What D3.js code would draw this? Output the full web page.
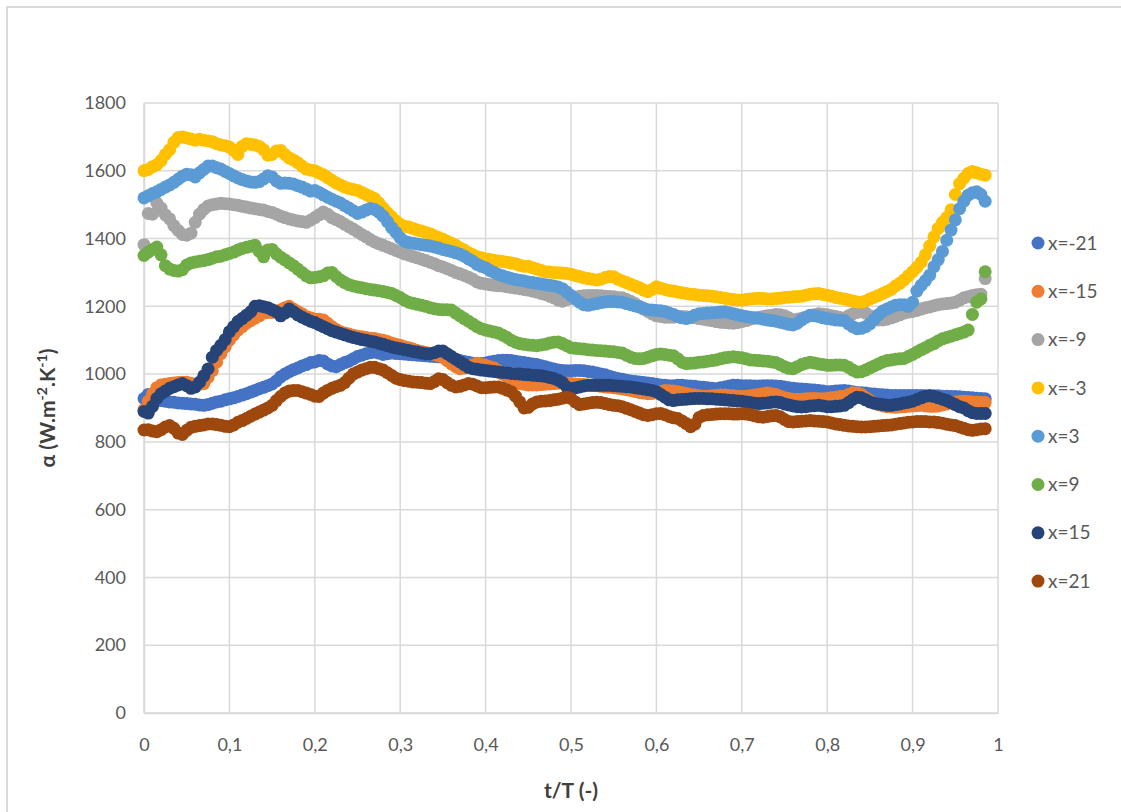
<!DOCTYPE html>
<html>
<head>
<meta charset="utf-8">
<script src="https://cdn.jsdelivr.net/npm/d3@7"></script>
<style>
  html, body { margin: 0; padding: 0; background: #ffffff; }
  svg { display: block; }
</style>
</head>
<body>
<svg id="chart" width="1121" height="812"></svg>
<script>
// Heat transfer coefficient over one period, at eight axial positions.
const seriesNames = ["x=-21", "x=-15", "x=-9", "x=-3", "x=3", "x=9", "x=15", "x=21"];
const seriesColors = ["#4472C4", "#ED7D31", "#A5A5A5", "#FFC000", "#5B9BD5", "#70AD47", "#264478", "#9E480E"];

const xTicks = [0, 0.1, 0.2, 0.3, 0.4, 0.5, 0.6, 0.7, 0.8, 0.9, 1];
const xTickLabels = ["0", "0,1", "0,2", "0,3", "0,4", "0,5", "0,6", "0,7", "0,8", "0,9", "1"];
const yTicks = [0, 200, 400, 600, 800, 1000, 1200, 1400, 1600, 1800];

// Samples are taken every 0.005 t/T, starting at t/T = 0
const sampleStep = 0.005;

const alphaXm21 = [
  928,940,936,926,922,920,918,917,915,914,913,912,911,909,908,910,914,918,920,924,
  927,930,934,938,942,947,952,957,961,966,971,980,992,1000,1007,1013,1018,1024,1028,1034,
  1036,1040,1039,1030,1024,1022,1028,1034,1038,1045,1052,1056,1060,1063,1065,1062,1058,1060,1062,1061,
  1060,1059,1058,1057,1056,1055,1054,1053,1052,1051,1050,1048,1046,1043,1040,1037,1035,1032,1030,1031,
  1033,1036,1038,1040,1041,1041,1040,1038,1036,1034,1032,1030,1028,1025,1022,1018,1015,1012,1011,1010,
  1010,1011,1011,1010,1008,1006,1003,1000,998,994,990,987,985,982,980,978,977,975,974,972,
  970,968,967,966,966,967,967,966,965,964,962,961,960,958,957,960,962,965,967,967,
  966,966,966,965,965,966,966,966,965,964,962,960,958,957,956,955,954,953,952,950,
  948,949,950,951,952,950,948,946,945,944,942,941,940,939,938,937,937,937,937,937,
  937,937,937,936,936,936,936,935,935,934,934,933,932,931,930,929,928,927];

const alphaXm15 = [
  895,920,942,960,968,970,972,974,975,976,976,973,970,970,972,990,1010,1035,1060,1080,
  1100,1116,1130,1140,1150,1158,1165,1172,1180,1182,1182,1186,1190,1196,1200,1192,1185,1178,1170,1166,
  1162,1162,1160,1150,1140,1132,1125,1121,1118,1115,1112,1110,1108,1106,1105,1102,1100,1096,1092,1088,
  1085,1081,1078,1074,1070,1067,1064,1061,1058,1054,1050,1040,1030,1022,1016,1018,1022,1027,1032,1029,
  1026,1022,1018,1010,1000,992,985,978,972,970,968,968,968,969,970,971,972,973,974,973,
  972,971,970,969,968,967,966,964,962,961,960,958,956,954,952,949,946,944,942,943,
  945,949,952,951,950,948,946,943,940,938,936,935,935,936,937,938,938,937,936,935,
  934,935,936,938,940,942,944,942,940,935,930,928,926,926,926,927,928,928,927,927,
  928,930,932,934,935,940,945,944,940,930,922,915,910,906,904,903,902,903,904,905,
  906,907,908,906,905,905,906,909,912,915,918,919,920,919,918,917,916,916];

const alphaXm9 = [
  1382,1474,1472,1505,1490,1470,1458,1438,1424,1412,1410,1416,1448,1472,1486,1496,1500,1502,1504,1503,
  1502,1500,1498,1495,1493,1490,1488,1486,1484,1480,1477,1472,1466,1462,1458,1455,1452,1450,1448,1454,
  1462,1470,1478,1472,1462,1456,1450,1442,1435,1428,1420,1412,1405,1397,1390,1385,1380,1375,1370,1365,
  1360,1355,1351,1347,1343,1339,1335,1330,1326,1320,1316,1311,1306,1300,1296,1291,1286,1280,1272,1268,
  1266,1264,1262,1261,1260,1258,1256,1254,1252,1250,1248,1245,1242,1238,1235,1230,1225,1218,1215,1220,
  1224,1227,1230,1231,1232,1232,1232,1231,1230,1229,1228,1226,1225,1220,1215,1208,1200,1192,1185,1178,
  1172,1170,1168,1168,1168,1169,1170,1169,1168,1166,1164,1162,1160,1158,1155,1153,1152,1151,1150,1152,
  1155,1158,1162,1165,1168,1170,1172,1174,1176,1175,1172,1166,1160,1162,1165,1168,1172,1175,1178,1177,
  1175,1172,1170,1167,1165,1172,1178,1182,1185,1180,1172,1165,1160,1160,1162,1166,1170,1175,1180,1183,
  1185,1188,1192,1196,1198,1202,1205,1207,1208,1210,1212,1218,1225,1228,1232,1234,1236,1282];

const alphaXm3 = [
  1600,1604,1612,1618,1630,1648,1662,1684,1698,1700,1697,1694,1690,1693,1690,1688,1686,1680,1676,1674,
  1670,1660,1648,1672,1680,1678,1676,1672,1662,1646,1648,1658,1660,1648,1638,1632,1624,1614,1605,1602,
  1600,1594,1588,1580,1572,1564,1558,1552,1548,1545,1542,1536,1530,1524,1518,1505,1490,1476,1464,1452,
  1442,1436,1434,1430,1425,1422,1418,1414,1408,1403,1398,1392,1386,1380,1372,1366,1358,1352,1346,1343,
  1340,1338,1336,1334,1332,1330,1328,1326,1321,1318,1318,1314,1310,1306,1302,1301,1300,1299,1298,1297,
  1295,1291,1288,1284,1282,1280,1278,1280,1285,1288,1287,1280,1275,1270,1265,1260,1255,1248,1243,1250,
  1258,1253,1250,1247,1245,1242,1240,1238,1236,1235,1233,1232,1231,1230,1228,1226,1224,1222,1220,1219,
  1218,1220,1222,1223,1224,1223,1222,1222,1223,1224,1226,1227,1228,1229,1230,1233,1236,1237,1238,1235,
  1233,1230,1226,1224,1222,1219,1216,1213,1212,1216,1222,1227,1232,1238,1244,1250,1260,1268,1278,1290,
  1302,1315,1330,1352,1378,1405,1430,1448,1462,1485,1530,1562,1578,1592,1598,1594,1590,1587];

const alphaX3 = [
  1520,1526,1533,1538,1545,1552,1558,1566,1575,1584,1590,1588,1582,1594,1604,1614,1614,1609,1605,1598,
  1592,1585,1579,1574,1570,1567,1566,1568,1576,1585,1582,1570,1563,1564,1563,1561,1556,1552,1546,1540,
  1542,1536,1529,1522,1516,1510,1505,1497,1490,1482,1474,1478,1484,1489,1486,1478,1466,1450,1432,1418,
  1402,1392,1388,1386,1384,1382,1380,1378,1375,1372,1368,1365,1362,1358,1354,1348,1340,1333,1324,1318,
  1314,1306,1300,1294,1290,1286,1282,1279,1277,1275,1272,1270,1268,1266,1264,1262,1260,1257,1252,1242,
  1232,1222,1212,1205,1203,1206,1208,1211,1213,1214,1214,1213,1212,1208,1205,1201,1198,1194,1190,1189,
  1188,1187,1185,1180,1176,1170,1166,1164,1168,1174,1178,1179,1180,1181,1182,1183,1184,1181,1178,1175,
  1172,1170,1168,1166,1165,1162,1160,1158,1156,1153,1150,1147,1145,1150,1160,1168,1174,1172,1170,1166,
  1164,1162,1160,1159,1158,1148,1140,1134,1135,1140,1148,1162,1175,1186,1192,1198,1203,1205,1205,1200,
  1212,1245,1262,1276,1292,1317,1338,1362,1395,1425,1455,1488,1510,1528,1535,1538,1530,1510];

const alphaX9 = [
  1350,1360,1368,1375,1352,1320,1310,1306,1304,1308,1322,1328,1331,1333,1335,1338,1342,1346,1348,1352,
  1356,1360,1366,1371,1374,1377,1380,1362,1346,1366,1368,1355,1345,1337,1328,1320,1310,1300,1290,1284,
  1285,1287,1290,1298,1300,1288,1278,1270,1264,1260,1257,1255,1252,1250,1248,1246,1244,1241,1238,1232,
  1226,1218,1212,1209,1206,1203,1200,1196,1193,1191,1190,1190,1189,1180,1172,1164,1156,1148,1140,1134,
  1130,1127,1124,1121,1115,1108,1100,1094,1090,1088,1086,1085,1084,1086,1088,1092,1094,1095,1090,1084,
  1078,1076,1075,1074,1072,1071,1070,1069,1068,1067,1066,1064,1062,1056,1050,1046,1045,1046,1050,1054,
  1058,1059,1058,1056,1054,1045,1035,1031,1032,1033,1035,1036,1038,1040,1042,1045,1048,1050,1051,1050,
  1048,1045,1042,1041,1040,1039,1038,1036,1034,1028,1022,1017,1016,1022,1028,1032,1035,1033,1030,1028,
  1026,1026,1027,1027,1026,1020,1012,1006,1007,1012,1018,1024,1030,1036,1040,1042,1044,1045,1046,1052,
  1058,1065,1072,1078,1085,1090,1098,1104,1108,1112,1116,1120,1124,1130,1176,1212,1222,1302];

const alphaX15 = [
  890,885,905,928,942,950,958,963,968,972,966,958,962,976,995,1015,1050,1070,1085,1102,
  1125,1140,1155,1164,1174,1184,1200,1202,1199,1196,1190,1184,1172,1180,1192,1184,1175,1168,1162,1156,
  1152,1146,1140,1134,1128,1124,1120,1116,1112,1108,1105,1102,1100,1097,1095,1091,1088,1084,1080,1077,
  1075,1072,1070,1067,1065,1062,1060,1060,1063,1068,1068,1060,1052,1044,1036,1028,1020,1016,1014,1012,
  1011,1009,1008,1006,1005,1004,1002,1001,1000,999,998,997,996,995,993,990,987,982,975,962,
  957,959,962,965,967,967,967,967,967,967,966,965,964,963,962,960,958,956,954,952,
  948,940,932,924,922,924,925,926,927,928,928,928,927,927,926,925,924,923,922,921,
  920,918,916,914,913,914,915,917,918,916,912,909,906,904,903,904,906,907,908,906,
  904,904,905,906,908,916,925,932,930,924,918,914,912,910,908,908,910,912,915,917,
  920,925,930,935,936,934,930,926,922,916,910,904,900,892,886,884,884,884];

const alphaX21 = [
  835,836,832,830,836,844,848,840,826,822,834,843,846,848,850,853,853,851,849,846,
  845,850,858,863,869,876,882,888,894,900,908,922,934,944,950,952,952,948,944,940,
  935,934,944,952,958,963,967,975,988,1000,1006,1012,1016,1020,1020,1016,1012,1004,996,988,
  984,981,979,977,976,975,973,972,978,986,984,975,967,962,964,968,972,970,965,960,
  960,961,962,962,958,953,948,935,918,900,902,912,918,920,921,922,924,926,929,932,
  928,918,910,912,914,916,917,916,913,910,908,907,904,899,895,890,885,880,878,880,
  883,884,880,875,871,869,862,854,845,852,872,878,880,881,882,883,883,883,882,882,
  883,882,880,877,874,873,875,877,878,874,866,860,859,860,861,862,863,862,861,860,
  859,856,853,851,849,847,846,845,844,844,845,846,847,848,849,850,852,854,856,858,
  859,860,860,860,859,859,857,855,852,850,848,844,840,836,834,836,838,839];

const seriesValues = [alphaXm21, alphaXm15, alphaXm9, alphaXm3, alphaX3, alphaX9, alphaX15, alphaX21];

const svg = d3.select("#chart");
const W = 1121, H = 812;
const plot = { left: 144, right: 998, top: 103, bottom: 713 };

const x = d3.scaleLinear().domain([0, 1]).range([plot.left, plot.right]);
const y = d3.scaleLinear().domain([0, 1800]).range([plot.bottom, plot.top]);

const fontFamily = "Lato, 'Open Sans', 'Liberation Sans', sans-serif";
const gridColor = "#d9d9d9";

// Chart frame
svg.append("rect")
  .attr("x", 7).attr("y", 7)
  .attr("width", W + 20).attr("height", H + 20)
  .attr("fill", "#ffffff")
  .attr("stroke", gridColor)
  .attr("stroke-width", 2);

// Gridlines
const grid = svg.append("g");
grid.selectAll("line.h").data(yTicks).join("line")
  .attr("class", "h")
  .attr("x1", plot.left).attr("x2", plot.right)
  .attr("y1", d => y(d)).attr("y2", d => y(d))
  .attr("stroke", gridColor).attr("stroke-width", 1.5);
grid.selectAll("line.v").data(xTicks).join("line")
  .attr("class", "v")
  .attr("x1", d => x(d)).attr("x2", d => x(d))
  .attr("y1", plot.top).attr("y2", plot.bottom)
  .attr("stroke", gridColor).attr("stroke-width", 1.5);

// Axes
const yAxis = d3.axisLeft(y).tickValues(yTicks).tickSize(0).tickPadding(18)
  .tickFormat(d3.format("d"));
const gy = svg.append("g").attr("transform", `translate(${plot.left},0)`).call(yAxis);
gy.select(".domain").attr("stroke", gridColor).attr("stroke-width", 1.5);
gy.selectAll("text").attr("font-family", fontFamily).attr("font-size", 18).attr("fill", "#595959");

const xAxis = d3.axisBottom(x).tickValues(xTicks).tickSize(0).tickPadding(25)
  .tickFormat((d, i) => xTickLabels[i]);
const gx = svg.append("g").attr("transform", `translate(0,${plot.bottom})`).call(xAxis);
gx.select(".domain").attr("stroke", gridColor).attr("stroke-width", 1.5);
gx.selectAll("text").attr("font-family", fontFamily).attr("font-size", 18).attr("fill", "#595959");

// Axis titles
svg.append("text")
  .attr("x", (plot.left + plot.right) / 2).attr("y", 798)
  .attr("text-anchor", "middle")
  .attr("font-family", fontFamily).attr("font-size", 21).attr("font-weight", "bold")
  .attr("fill", "#404040")
  .text("t/T (-)");

const yTitle = svg.append("text")
  .attr("transform", `translate(55,${(plot.top + plot.bottom) / 2}) rotate(-90)`)
  .attr("text-anchor", "middle")
  .attr("font-family", fontFamily).attr("font-size", 21).attr("font-weight", "bold")
  .attr("fill", "#404040");
yTitle.append("tspan").text("α (W.m");
yTitle.append("tspan").attr("font-size", 14).attr("dy", -8).text("-2");
yTitle.append("tspan").attr("dy", 8).text(".K");
yTitle.append("tspan").attr("font-size", 14).attr("dy", -8).text("-1");
yTitle.append("tspan").attr("dy", 8).text(")");

// Markers
const markerR = 6.5;
seriesValues.forEach((vals, si) => {
  svg.append("g")
    .selectAll("circle")
    .data(vals.map((v, i) => ({ t: i * sampleStep, v })))
    .join("circle")
    .attr("cx", d => x(d.t))
    .attr("cy", d => y(d.v))
    .attr("r", markerR)
    .attr("fill", seriesColors[si]);
});

// Legend
const legend = svg.append("g").attr("transform", "translate(1038,243)");
const item = legend.selectAll("g").data(seriesNames).join("g")
  .attr("transform", (d, i) => `translate(0,${i * 48.3})`);
item.append("circle").attr("r", markerR).attr("fill", (d, i) => seriesColors[i]);
item.append("text")
  .attr("x", 10).attr("dy", "0.35em")
  .attr("font-family", fontFamily).attr("font-size", 19).attr("fill", "#595959")
  .text(d => d);
</script>
</body>
</html>
